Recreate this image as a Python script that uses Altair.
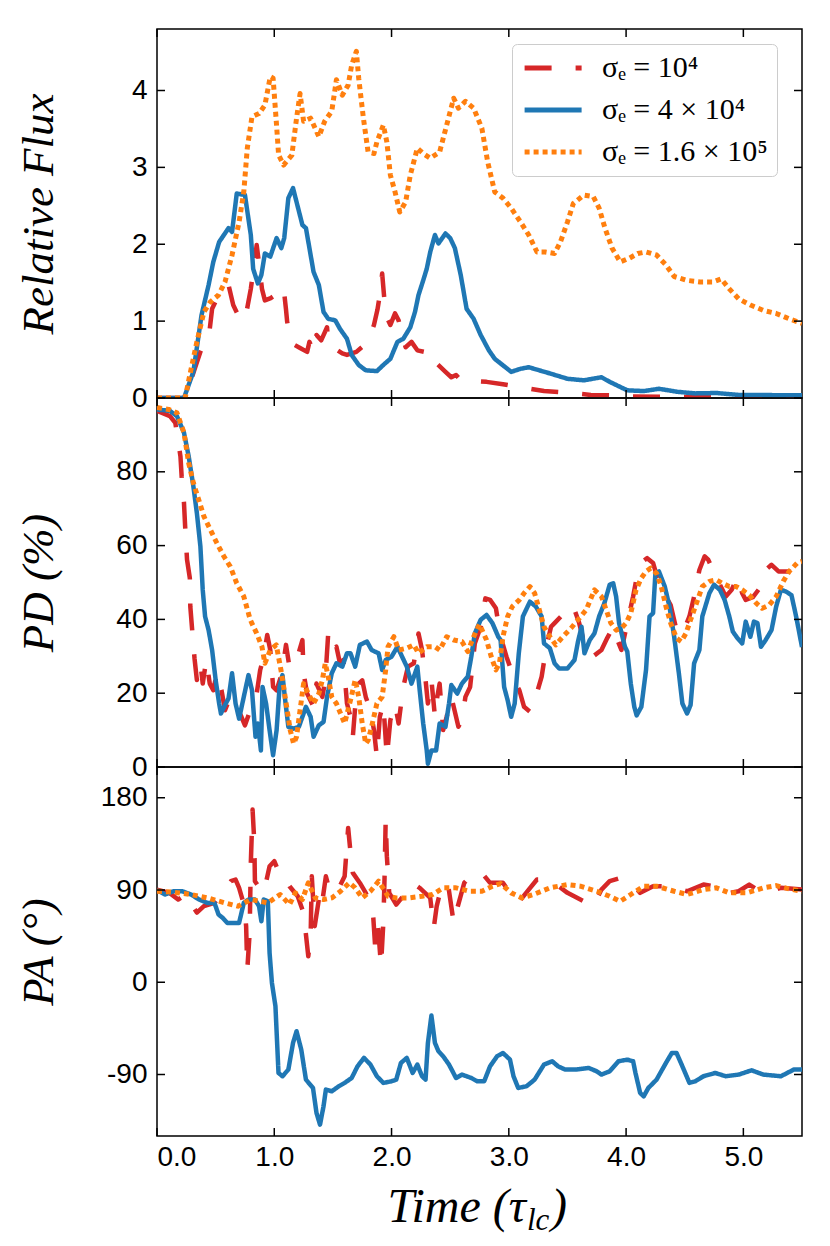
import altair as alt
import pandas as pd

SERIES = ["σₑ = 10⁴", "σₑ = 4 × 10⁴", "σₑ = 1.6 × 10⁵"]
COLORS = ["#d62728", "#1f77b4", "#ff7f0e"]
DASHES = [[27, 24], [1, 0], [5, 4]]
WIDTHS = [4.5, 4.5, 5]

X_TICKS = [0, 1, 2, 3, 4, 5]
FLUX_TICKS = [0, 1, 2, 3, 4]
PD_TICKS = [0, 20, 40, 60, 80]
PA_TICKS = [-90, 0, 90, 180]
Y_TITLES = ["Relative Flux", "PD (%)", "PA (°)"]
X_TITLE = ["Time (τ", "lc", ")"]

# ---------------- Relative flux ----------------
flux_red = [(0, 0), (0.24, 0), (0.30, 0.28), (0.37, 0.60), (0.45, 0.90), (0.47, 1.16), (0.51, 1.29),
            (0.56, 1.35), (0.61, 1.47), (0.65, 1.21), (0.70, 1.05), (0.75, 1.01), (0.80, 1.42), (0.83, 1.75),
            (0.85, 1.99), (0.87, 1.75), (0.895, 1.42), (0.92, 1.27), (0.97, 1.30), (1.01, 1.34), (1.05, 1.45),
            (1.085, 1.36), (1.10, 1.15), (1.11, 0.99), (1.15, 0.71), (1.22, 0.65), (1.28, 0.60), (1.30, 0.73),
            (1.335, 0.60), (1.36, 0.82), (1.40, 0.75), (1.45, 0.92), (1.46, 0.71), (1.52, 0.64), (1.58, 0.58),
            (1.62, 0.56), (1.70, 0.60), (1.80, 0.73), (1.85, 0.95), (1.88, 1.15), (1.90, 1.34), (1.92, 1.62),
            (1.95, 1.08), (1.99, 0.95), (2.03, 1.10), (2.06, 1.01), (2.12, 0.66), (2.17, 0.73), (2.22, 0.62),
            (2.28, 0.60), (2.34, 0.62), (2.37, 0.47), (2.46, 0.34), (2.51, 0.27), (2.55, 0.30), (2.59, 0.23),
            (2.70, 0.22), (2.81, 0.21), (2.95, 0.18), (3.10, 0.14), (3.30, 0.09), (3.50, 0.07), (3.70, 0.04),
            (3.86, 0.035), (4.0, 0.02), (4.3, 0.015), (4.6, 0.01), (5.0, 0.005), (5.5, 0.0)]
flux_blue = [(0, 0), (0.23, 0), (0.31, 0.34), (0.38, 1.08), (0.44, 1.47), (0.48, 1.77), (0.53, 2.03),
             (0.57, 2.12), (0.61, 2.21), (0.64, 2.16), (0.68, 2.66), (0.75, 2.64), (0.80, 2.12), (0.82, 1.68),
             (0.86, 1.49), (0.89, 1.60), (0.92, 1.88), (0.966, 1.84), (1.02, 2.08), (1.06, 1.95), (1.085, 2.08),
             (1.12, 2.60), (1.16, 2.73), (1.19, 2.55), (1.24, 2.25), (1.27, 2.21), (1.31, 1.86), (1.335, 1.64),
             (1.38, 1.47), (1.42, 1.12), (1.46, 1.03), (1.52, 1.01), (1.56, 0.90), (1.62, 0.77), (1.66, 0.56),
             (1.72, 0.43), (1.78, 0.36), (1.875, 0.35), (1.93, 0.43), (1.99, 0.51), (2.05, 0.73), (2.10, 0.77),
             (2.16, 0.92), (2.20, 1.12), (2.23, 1.34), (2.27, 1.53), (2.30, 1.68), (2.33, 1.90), (2.37, 2.12),
             (2.40, 2.01), (2.46, 2.14), (2.50, 2.08), (2.54, 1.95), (2.59, 1.60), (2.64, 1.16), (2.70, 1.03),
             (2.76, 0.82), (2.83, 0.62), (2.88, 0.51), (3.02, 0.34), (3.10, 0.38), (3.17, 0.40), (3.26, 0.36),
             (3.35, 0.32), (3.50, 0.25), (3.64, 0.23), (3.79, 0.27), (3.86, 0.21), (4.01, 0.10), (4.15, 0.09),
             (4.28, 0.12), (4.44, 0.08), (4.59, 0.06), (4.77, 0.065), (4.96, 0.04), (5.5, 0.035)]
flux_orange = [(0, 0), (0.24, 0), (0.28, 0.30), (0.34, 0.73), (0.40, 1.12), (0.455, 1.25), (0.525, 1.34),
               (0.58, 1.51), (0.64, 1.86), (0.70, 2.29), (0.74, 2.68), (0.77, 3.25), (0.81, 3.66), (0.87, 3.70),
               (0.92, 3.81), (0.966, 4.18), (0.99, 4.16), (1.017, 3.60), (1.037, 3.16), (1.08, 3.03), (1.15, 3.16),
               (1.19, 3.64), (1.22, 3.96), (1.25, 3.60), (1.31, 3.64), (1.38, 3.40), (1.43, 3.60), (1.49, 3.73),
               (1.53, 4.14), (1.58, 3.94), (1.63, 4.07), (1.66, 4.33), (1.70, 4.51), (1.72, 4.16), (1.76, 3.64),
               (1.80, 3.20), (1.85, 3.18), (1.875, 3.33), (1.93, 3.55), (1.96, 3.33), (1.99, 2.90), (2.03, 2.68),
               (2.07, 2.42), (2.12, 2.55), (2.16, 2.90), (2.22, 3.25), (2.27, 3.18), (2.33, 3.12), (2.41, 3.20),
               (2.47, 3.55), (2.53, 3.90), (2.57, 3.77), (2.63, 3.86), (2.70, 3.77), (2.77, 3.51), (2.82, 3.07),
               (2.88, 2.68), (2.95, 2.60), (3.02, 2.47), (3.10, 2.29), (3.17, 2.12), (3.24, 1.90), (3.31, 1.90),
               (3.39, 1.88), (3.44, 2.03), (3.50, 2.29), (3.55, 2.53), (3.64, 2.64), (3.72, 2.62), (3.77, 2.47),
               (3.82, 2.21), (3.88, 1.95), (3.95, 1.77), (4.03, 1.82), (4.10, 1.88), (4.17, 1.90), (4.26, 1.86),
               (4.34, 1.73), (4.41, 1.58), (4.52, 1.53), (4.63, 1.51), (4.74, 1.51), (4.81, 1.55), (4.88, 1.42),
               (4.96, 1.29), (5.06, 1.21), (5.17, 1.14), (5.28, 1.10), (5.39, 1.03), (5.5, 0.97)]

# ---------------- Polarization degree (%) ----------------
pd_red = [(0, 96.5), (0.11, 95.1), (0.156, 93.3), (0.20, 84.2), (0.21, 78.8), (0.23, 71.6), (0.24, 65.2),
          (0.256, 56.2), (0.28, 51.2), (0.284, 43.5), (0.30, 37.1), (0.32, 29.4), (0.34, 23.6), (0.37, 28.1),
          (0.39, 22.6), (0.42, 29.0), (0.45, 22.6), (0.48, 20.8), (0.51, 25.4), (0.55, 20.8), (0.58, 15.4),
          (0.625, 19.0), (0.68, 16.3), (0.72, 13.6), (0.75, 11.3), (0.795, 15.4), (0.85, 19.9), (0.88, 26.3),
          (0.91, 29.9), (0.94, 35.8), (0.966, 31.7), (0.99, 21.7), (1.02, 20.8), (1.065, 25.4), (1.10, 33.1),
          (1.13, 27.0), (1.19, 29.0), (1.24, 34.4), (1.25, 25.4), (1.28, 19.9), (1.335, 16.3), (1.36, 22.6),
          (1.41, 19.0), (1.435, 23.6), (1.46, 36.2), (1.49, 31.7), (1.53, 32.6), (1.56, 28.1), (1.59, 29.0),
          (1.62, 17.2), (1.65, 13.6), (1.67, 8.2), (1.69, 16.3), (1.72, 22.6), (1.75, 23.5), (1.78, 19.0),
          (1.82, 15.4), (1.85, 10.0), (1.875, 2.7), (1.90, 13.6), (1.93, 17.2), (1.96, 2.7), (1.99, 12.7),
          (2.03, 17.0), (2.06, 11.8), (2.10, 21.7), (2.14, 27.2), (2.19, 28.1), (2.23, 36.2), (2.26, 31.7),
          (2.29, 23.6), (2.31, 17.2), (2.34, 23.6), (2.37, 13.6), (2.39, 19.0), (2.41, 22.6), (2.44, 10.0),
          (2.47, 13.6), (2.51, 19.0), (2.54, 15.0), (2.57, 10.9), (2.60, 12.7), (2.63, 19.0), (2.67, 21.7),
          (2.71, 33.5), (2.76, 38.0), (2.80, 45.7), (2.84, 45.3), (2.89, 43.0), (2.93, 35.3), (2.98, 29.9),
          (3.02, 26.3), (3.06, 22.6), (3.09, 20.8), (3.13, 16.3), (3.18, 15.0), (3.23, 19.0), (3.28, 24.5),
          (3.32, 32.6), (3.36, 38.0), (3.39, 39.0), (3.45, 41.0), (3.52, 43.9), (3.56, 42.6), (3.60, 39.0),
          (3.64, 34.0), (3.68, 30.5), (3.72, 30.0), (3.79, 31.7), (3.84, 35.0), (3.89, 38.0), (3.915, 35.3),
          (3.96, 31.7), (4.01, 39.0), (4.06, 46.2), (4.10, 53.0), (4.14, 55.7), (4.18, 56.6), (4.23, 55.3),
          (4.28, 49.8), (4.34, 46.2), (4.38, 43.9), (4.43, 37.1), (4.48, 36.0), (4.54, 40.8), (4.58, 46.2),
          (4.625, 53.4), (4.67, 57.1), (4.70, 56.2), (4.76, 52.0), (4.85, 46.2), (4.90, 48.0), (4.95, 51.6),
          (4.99, 47.1), (5.02, 45.3), (5.08, 46.0), (5.15, 48.9), (5.19, 53.4), (5.24, 54.8), (5.30, 53.0),
          (5.39, 53.0), (5.45, 52.5), (5.5, 48.9)]
pd_blue = [(0, 96.9), (0.11, 96.5), (0.17, 95.1), (0.23, 90.6), (0.27, 84.2), (0.31, 76.1), (0.34, 68.8),
           (0.37, 59.8), (0.39, 48.0), (0.41, 40.8), (0.44, 37.1), (0.47, 31.7), (0.50, 23.6), (0.53, 17.2),
           (0.545, 14.5), (0.58, 16.8), (0.61, 18.6), (0.64, 25.4), (0.67, 17.2), (0.70, 13.1), (0.74, 19.0),
           (0.78, 24.9), (0.81, 20.8), (0.84, 8.2), (0.86, 11.8), (0.886, 4.5), (0.90, 21.7), (0.93, 17.2),
           (0.96, 10.0), (0.99, 3.2), (1.02, 10.0), (1.045, 21.7), (1.07, 24.9), (1.09, 19.0), (1.12, 10.9),
           (1.165, 10.4), (1.21, 10.9), (1.24, 13.6), (1.27, 16.3), (1.31, 13.6), (1.335, 8.2), (1.38, 11.3),
           (1.42, 12.2), (1.45, 19.0), (1.49, 25.4), (1.53, 28.1), (1.58, 27.2), (1.62, 30.8), (1.65, 30.8),
           (1.69, 27.2), (1.73, 33.1), (1.79, 34.0), (1.83, 31.7), (1.89, 30.8), (1.92, 26.3), (1.95, 29.0),
           (2.00, 29.9), (2.05, 32.6), (2.09, 29.9), (2.13, 27.2), (2.17, 22.6), (2.22, 27.2), (2.24, 20.8),
           (2.27, 11.8), (2.30, 4.5), (2.31, 0.9), (2.34, 4.5), (2.38, 4.5), (2.41, 11.8), (2.46, 10.9),
           (2.49, 17.2), (2.51, 22.2), (2.56, 19.9), (2.60, 22.6), (2.65, 24.5), (2.68, 29.9), (2.71, 36.2),
           (2.76, 39.9), (2.81, 41.2), (2.86, 39.0), (2.91, 35.3), (2.93, 34.4), (2.96, 21.7), (2.99, 18.1),
           (3.02, 13.6), (3.05, 17.2), (3.085, 30.8), (3.12, 40.8), (3.18, 44.8), (3.23, 43.5), (3.28, 40.8),
           (3.30, 33.5), (3.35, 32.2), (3.39, 28.1), (3.43, 26.7), (3.50, 26.7), (3.56, 29.0), (3.59, 34.0),
           (3.62, 38.0), (3.645, 30.8), (3.69, 34.4), (3.73, 36.2), (3.77, 40.8), (3.815, 44.4), (3.86, 49.4),
           (3.89, 49.8), (3.915, 46.2), (3.94, 39.0), (3.99, 32.6), (4.01, 31.3), (4.04, 22.6), (4.07, 16.3),
           (4.09, 14.0), (4.13, 16.3), (4.17, 26.3), (4.20, 40.8), (4.23, 41.7), (4.25, 52.5), (4.28, 53.0),
           (4.33, 48.9), (4.37, 43.5), (4.41, 35.3), (4.45, 25.4), (4.48, 17.2), (4.52, 14.5), (4.55, 16.8),
           (4.58, 28.1), (4.625, 31.7), (4.65, 40.8), (4.71, 47.1), (4.75, 49.4), (4.80, 48.0), (4.84, 45.3),
           (4.88, 40.8), (4.91, 36.7), (4.95, 34.9), (4.99, 33.5), (5.02, 39.4), (5.06, 35.3), (5.09, 39.4),
           (5.12, 39.0), (5.15, 32.6), (5.19, 34.4), (5.24, 37.1), (5.28, 43.5), (5.32, 48.0), (5.36, 47.6),
           (5.41, 46.6), (5.45, 40.8), (5.5, 32.5)]
pd_orange = [(0, 97.4), (0.10, 96.9), (0.17, 96.0), (0.23, 90.6), (0.27, 82.4), (0.31, 77.0), (0.355, 72.5),
             (0.40, 67.9), (0.455, 64.3), (0.51, 60.7), (0.57, 57.1), (0.625, 54.3), (0.68, 49.8), (0.74, 46.2),
             (0.795, 39.9), (0.85, 36.2), (0.895, 32.6), (0.92, 28.1), (0.966, 31.7), (1.017, 33.1), (1.057, 26.3),
             (1.08, 21.7), (1.11, 15.4), (1.136, 10.0), (1.165, 6.3), (1.19, 8.2), (1.22, 15.4), (1.25, 22.6),
             (1.29, 19.9), (1.335, 17.2), (1.38, 19.9), (1.41, 23.6), (1.435, 28.1), (1.46, 24.5), (1.49, 19.0),
             (1.53, 17.2), (1.56, 14.9), (1.60, 11.8), (1.65, 18.1), (1.69, 23.6), (1.72, 19.0), (1.75, 11.8),
             (1.78, 6.3), (1.80, 7.2), (1.83, 10.9), (1.875, 17.2), (1.92, 19.0), (1.95, 26.3), (1.97, 32.6),
             (2.02, 35.3), (2.06, 31.7), (2.13, 32.2), (2.19, 33.1), (2.23, 30.8), (2.30, 32.6), (2.37, 32.6),
             (2.41, 31.7), (2.47, 35.3), (2.53, 34.4), (2.60, 34.0), (2.65, 31.3), (2.70, 35.3), (2.75, 38.7),
             (2.81, 34.4), (2.85, 29.9), (2.89, 26.3), (2.92, 28.1), (2.95, 35.3), (2.99, 40.8), (3.03, 43.5),
             (3.09, 45.3), (3.13, 47.1), (3.18, 48.9), (3.22, 47.1), (3.26, 42.6), (3.30, 38.0), (3.35, 35.3),
             (3.40, 33.1), (3.46, 35.3), (3.53, 37.6), (3.59, 39.9), (3.66, 42.6), (3.73, 48.0), (3.79, 46.2),
             (3.83, 42.6), (3.87, 39.0), (3.915, 37.1), (3.96, 37.6), (4.00, 39.0), (4.04, 41.7), (4.085, 48.0),
             (4.13, 51.2), (4.17, 53.0), (4.21, 53.9), (4.26, 52.5), (4.30, 48.9), (4.34, 43.5), (4.38, 39.0),
             (4.43, 34.9), (4.47, 34.0), (4.51, 36.2), (4.55, 39.9), (4.60, 44.4), (4.65, 48.9), (4.71, 50.3),
             (4.77, 50.7), (4.82, 49.8), (4.88, 48.9), (4.94, 48.9), (4.99, 48.0), (5.05, 46.6), (5.11, 44.4),
             (5.16, 43.0), (5.22, 43.9), (5.28, 46.2), (5.34, 50.3), (5.39, 53.0), (5.46, 55.3), (5.5, 55.7)]

# ---------------- Polarization angle (deg) ----------------
pa_red = [(0, 90.4), (0.106, 87.2), (0.18, 80.7), (0.25, 86.0), (0.30, 75.0), (0.34, 68.0), (0.40, 74.2),
          (0.49, 77.4), (0.58, 90.4), (0.63, 98.6), (0.67, 100.2), (0.70, 92.0), (0.745, 74.2), (0.76, 54.7),
          (0.77, 12.4), (0.79, 48.1), (0.80, 116.5), (0.815, 168.5), (0.83, 136.0), (0.835, 98.6), (0.865, 93.7),
          (0.91, 87.2), (0.96, 113.2), (1.0, 118.1), (1.036, 108.3), (1.07, 106.7), (1.13, 93.7), (1.20, 83.9),
          (1.25, 67.7), (1.29, 25.4), (1.31, 44.9), (1.32, 103.4), (1.345, 54.7), (1.38, 80.7), (1.40, 70.9),
          (1.44, 103.4), (1.47, 90.4), (1.53, 87.2), (1.60, 103.4), (1.63, 150.6), (1.645, 132.7), (1.67, 106.7),
          (1.73, 96.9), (1.78, 87.2), (1.84, 70.9), (1.86, 35.1), (1.885, 54.7), (1.91, 15.6), (1.93, 57.9),
          (1.94, 100.2), (1.95, 158.8), (1.96, 123.0), (1.98, 87.2), (2.04, 75.8), (2.11, 85.6), (2.18, 97.0),
          (2.24, 92.0), (2.33, 82.3), (2.36, 53.0), (2.385, 74.2), (2.42, 90.4), (2.48, 97.0), (2.53, 57.9),
          (2.55, 67.7), (2.62, 97.0), (2.695, 106.7), (2.77, 106.7), (2.84, 97.0), (2.95, 97.0), (3.02, 85.6),
          (3.08, 77.4), (3.17, 90.4), (3.24, 100.2), (3.35, 100.2), (3.50, 87.2), (3.61, 80.7), (3.72, 74.2),
          (3.79, 90.4), (3.86, 98.6), (3.95, 101.8), (4.03, 98.6), (4.12, 87.2), (4.23, 93.7), (4.37, 93.7),
          (4.52, 88.8), (4.66, 95.3), (4.74, 93.7), (4.81, 85.6), (4.96, 88.8), (5.05, 95.3), (5.14, 88.8),
          (5.23, 88.8), (5.32, 92.1), (5.5, 90.4)]
pa_blue = [(0, 89.8), (0.07, 85.6), (0.14, 88.8), (0.215, 88.8), (0.29, 85.6), (0.36, 80.7), (0.43, 77.4),
           (0.49, 77.4), (0.525, 66.0), (0.56, 62.8), (0.60, 57.9), (0.65, 57.9), (0.70, 57.9), (0.74, 77.4),
           (0.78, 80.7), (0.835, 80.7), (0.87, 74.2), (0.89, 59.5), (0.91, 80.7), (0.945, 79.0), (0.96, 28.6),
           (0.98, -0.7), (1.01, -23.4), (1.036, -88.5), (1.07, -91.7), (1.12, -85.2), (1.16, -59.2), (1.19, -47.8),
           (1.23, -65.7), (1.27, -95.0), (1.33, -103.1), (1.36, -127.5), (1.39, -138.9), (1.42, -121.0),
           (1.44, -104.7), (1.49, -106.4), (1.55, -101.5), (1.60, -98.2), (1.66, -93.4), (1.71, -82.0),
           (1.765, -73.8), (1.82, -80.3), (1.875, -91.7), (1.93, -98.2), (2.00, -96.6), (2.04, -95.0),
           (2.08, -78.7), (2.13, -73.8), (2.18, -88.5), (2.22, -80.3), (2.26, -91.7), (2.29, -95.0), (2.31, -59.2),
           (2.34, -32.5), (2.37, -59.2), (2.40, -67.3), (2.44, -72.2), (2.49, -80.3), (2.55, -93.4), (2.60, -90.1),
           (2.68, -93.4), (2.73, -96.6), (2.79, -96.6), (2.84, -82.0), (2.90, -72.2), (2.95, -69.0), (3.01, -75.5),
           (3.04, -91.7), (3.08, -103.1), (3.15, -101.5), (3.22, -95.0), (3.30, -80.3), (3.37, -77.1),
           (3.42, -82.0), (3.48, -85.2), (3.57, -85.2), (3.68, -83.6), (3.75, -86.9), (3.79, -90.1), (3.86, -86.9),
           (3.935, -77.1), (4.01, -75.5), (4.06, -77.1), (4.08, -88.5), (4.12, -108.0), (4.15, -111.3),
           (4.19, -103.1), (4.26, -95.0), (4.34, -78.7), (4.39, -69.0), (4.43, -69.0), (4.48, -82.0),
           (4.54, -98.2), (4.59, -96.6), (4.66, -91.7), (4.76, -88.5), (4.85, -91.7), (4.96, -90.1), (5.07, -85.9),
           (5.17, -90.1), (5.32, -91.7), (5.43, -85.2), (5.5, -85.2)]
pa_orange = [(0, 88.8), (0.14, 87.8), (0.29, 85.6), (0.43, 82.3), (0.58, 77.4), (0.69, 74.2), (0.80, 80.7),
             (0.945, 77.4), (1.05, 85.6), (1.13, 75.8), (1.18, 87.2), (1.24, 80.7), (1.29, 97.0), (1.35, 82.3),
             (1.42, 80.7), (1.49, 82.3), (1.565, 88.8), (1.64, 97.0), (1.69, 92.1), (1.75, 82.3), (1.82, 88.8),
             (1.89, 98.6), (1.97, 83.9), (2.04, 82.3), (2.15, 82.3), (2.26, 83.9), (2.35, 85.6), (2.44, 92.1),
             (2.55, 92.1), (2.66, 88.8), (2.77, 88.8), (2.86, 93.7), (2.93, 96.3), (3.02, 87.2), (3.11, 82.3),
             (3.21, 85.6), (3.35, 92.1), (3.50, 95.3), (3.61, 93.7), (3.75, 88.8), (3.86, 83.9), (3.95, 79.0),
             (4.04, 85.6), (4.15, 93.7), (4.26, 93.7), (4.41, 88.8), (4.52, 85.6), (4.66, 90.4), (4.77, 92.1),
             (4.88, 87.2), (5.03, 87.2), (5.17, 92.1), (5.28, 94.3), (5.39, 91.1), (5.5, 88.8)]

W, H = 645, 369
TICK_LEN = 8

xscale = alt.Scale(domain=[0, 5.5], nice=False, zero=False)

# legend handle: a horizontal stroke drawn from -1 to +4 symbol units (5 units long)
LEGEND = alt.Legend(
    title=None, orient="none", legendX=355, legendY=15, direction="vertical",
    symbolType="M-1,0H4", symbolSize=520, symbolStrokeWidth=5,
    labelFont="Liberation Serif", labelFontSize=30, labelColor="black", labelLimit=400,
    labelOffset=51, rowPadding=12, padding=9,
    strokeColor="#cccccc", fillColor="white", cornerRadius=5,
)


def make_frame(pairs_list):
    rows = []
    for name, pairs in zip(SERIES, pairs_list):
        for t, v in pairs:
            rows.append({"t": t, "value": v, "series": name})
    return pd.DataFrame(rows)


def panel(pairs_list, domain, ticks, title, bottom, with_legend):
    df = make_frame(pairs_list)
    yaxis = alt.Axis(values=ticks, title=title, ticks=False, domain=False, grid=False,
                     labelPadding=10, labelExpr="'' + datum.value",
                     titleX=-119, titleY=H / 2, titleAngle=270,
                     titleAlign="center", titleBaseline="middle")
    Y = alt.Y("value:Q", scale=alt.Scale(domain=domain, nice=False, zero=False), axis=yaxis)
    if bottom:
        xaxis = alt.Axis(values=X_TICKS, format=".1f", title=None, ticks=False, domain=False,
                         grid=False, labelPadding=7)
    else:
        xaxis = None
    X = alt.X("t:Q", scale=xscale, axis=xaxis)
    leg = LEGEND if with_legend else None
    color = alt.Color("series:N", scale=alt.Scale(domain=SERIES, range=COLORS), legend=leg)
    dash = alt.StrokeDash("series:N", scale=alt.Scale(domain=SERIES, range=DASHES), legend=leg)

    base = alt.Chart(df)
    layers = []
    for s, sw in zip(SERIES, WIDTHS):
        layers.append(
            base.transform_filter(alt.datum.series == s)
            .mark_line(strokeWidth=sw, clip=True, strokeCap="butt", strokeJoin="round")
            .encode(x=X, y=Y, color=color, strokeDash=dash)
        )

    yt = alt.Chart(pd.DataFrame({"value": ticks}))
    xt = alt.Chart(pd.DataFrame({"t": X_TICKS}))
    rule = dict(color="black", strokeWidth=1.5)
    layers += [
        yt.mark_rule(**rule).encode(y=Y, x=alt.value(0), x2=alt.value(TICK_LEN)),
        yt.mark_rule(**rule).encode(y=Y, x=alt.value(W - TICK_LEN), x2=alt.value(W)),
        xt.mark_rule(**rule).encode(x=X, y=alt.value(0), y2=alt.value(TICK_LEN)),
        xt.mark_rule(**rule).encode(x=X, y=alt.value(H - TICK_LEN), y2=alt.value(H)),
    ]
    if bottom:
        one = alt.Chart(pd.DataFrame({"k": [0]}))
        tstyle = dict(font="Liberation Serif", fontStyle="italic", color="black", baseline="alphabetic")
        layers += [
            one.mark_text(text=X_TITLE[0], align="right", fontSize=48, **tstyle)
            .encode(x=alt.value(369), y=alt.value(H + 86)),
            one.mark_text(text=X_TITLE[1], align="left", fontSize=31, **tstyle)
            .encode(x=alt.value(370), y=alt.value(H + 94)),
            one.mark_text(text=X_TITLE[2], align="left", fontSize=48, **tstyle)
            .encode(x=alt.value(394), y=alt.value(H + 86)),
        ]
    return alt.layer(*layers).properties(width=W, height=H)


p1 = panel([flux_red, flux_blue, flux_orange], [0, 4.8], FLUX_TICKS, Y_TITLES[0], False, True)
p2 = panel([pd_red, pd_blue, pd_orange], [0, 100], PD_TICKS, Y_TITLES[1], False, False)
p3 = panel([pa_red, pa_blue, pa_orange], [-150, 210], PA_TICKS, Y_TITLES[2], True, False)

chart = (
    alt.vconcat(p1, p2, p3, spacing=0, bounds="flush")
    .resolve_scale(y="independent", color="independent", strokeDash="independent")
    .properties(padding={"left": 7, "top": 19, "right": 10, "bottom": 5})
    .configure_view(stroke="black", strokeWidth=1.5)
    .configure_axis(labelFont="Liberation Sans", labelFontSize=28, labelColor="black",
                    titleFont="Liberation Serif", titleFontStyle="italic", titleFontWeight="normal",
                    titleFontSize=45, titleColor="black")
)

chart.save("out.html", embed_options={"renderer": "svg", "actions": False})
